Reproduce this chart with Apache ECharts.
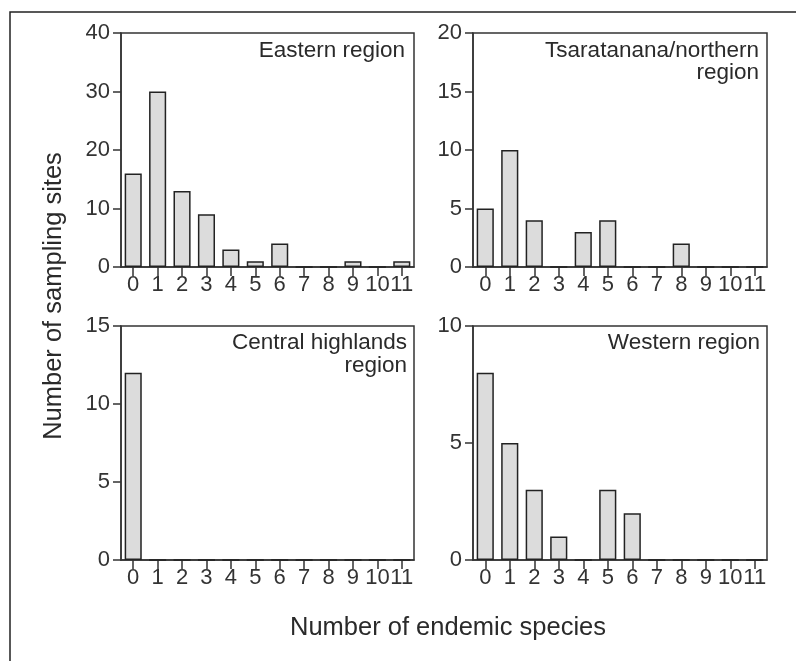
<!DOCTYPE html>
<html>
<head>
<meta charset="utf-8">
<script src="https://cdn.jsdelivr.net/npm/echarts@6/dist/echarts.min.js"></script>
<style>
html,body{margin:0;padding:0;background:#fff;}
#chart{width:796px;height:661px;}
</style>
</head>
<body>
<div id="chart"></div>
<script>
var categories = ['0','1','2','3','4','5','6','7','8','9','10','11'];
var easternValues = [16,30,13,9,3,1,4,0,0,1,0,1];
var northernValues = [5,10,4,0,3,4,0,0,2,0,0,0];
var centralValues = [12,0,0,0,0,0,0,0,0,0,0,0];
var westernValues = [8,5,3,1,0,3,2,0,0,0,0,0];
var panelTitles = ['Eastern region','Tsaratanana/northern\nregion','Central highlands\nregion','Western region'];
var yMax = [40,20,15,10];
var yStep = [10,5,5,5];
var xTitle = 'Number of endemic species';
var yTitle = 'Number of sampling sites';

var FONT = '"Liberation Sans", Arial, Helvetica, sans-serif';
var INK = '#2a2a2a';
var grids = [
  {left:121, top:33, width:293, height:234},
  {left:473, top:33, width:294, height:234},
  {left:121, top:326, width:293, height:234},
  {left:473, top:326, width:294, height:234}
];
var seriesData = [easternValues, northernValues, centralValues, westernValues];
var labelPos = [[405,39.5],[759,39.5],[407,332],[760,332]];

var option = {
  animation:false,
  backgroundColor:'#fff',
  grid: grids.map(function(g){ return Object.assign({show:true, borderColor:'#333', borderWidth:1.5, backgroundColor:'transparent'}, g); }),
  xAxis: grids.map(function(g,i){ return {
    type:'category', gridIndex:i, data:categories, boundaryGap:true,
    axisLine:{show:true, lineStyle:{color:'#333', width:1.5}},
    axisTick:{show:true, alignWithLabel:true, length:9, lineStyle:{color:'#333', width:1.5}},
    axisLabel:{interval:0, hideOverlap:false, margin:7, color:'#333', fontSize:22, fontFamily:FONT},
    splitLine:{show:false}
  };}),
  yAxis: grids.map(function(g,i){ return {
    type:'value', gridIndex:i, min:0, max:yMax[i], interval:yStep[i],
    axisLine:{show:true, lineStyle:{color:'#333', width:1.5}},
    axisTick:{show:true, length:8, lineStyle:{color:'#333', width:1.5}},
    axisLabel:{margin:11, color:'#333', fontSize:22, fontFamily:FONT},
    splitLine:{show:false}
  };}),
  series: seriesData.map(function(d,i){ return {
    type:'bar', xAxisIndex:i, yAxisIndex:i, data:d, barWidth:'70%',
    itemStyle:{color:'#dcdcdc', borderColor:'#222', borderWidth:1.5},
    silent:true
  };}),
  graphic: [
    {type:'polyline', shape:{points:[[10,661],[10,12],[796,12]]}, style:{stroke:'#222', lineWidth:1.5, fill:null}, silent:true},
    {type:'text', x:54, y:296, rotation:Math.PI/2, style:{text:yTitle, font:'25.5px '+FONT, fill:INK, textAlign:'center', textVerticalAlign:'middle'}},
    {type:'text', x:448, y:628, style:{text:xTitle, font:'25.5px '+FONT, fill:INK, textAlign:'center', textVerticalAlign:'middle'}}
  ].concat(panelTitles.map(function(t,i){ return {
    type:'text', x:labelPos[i][0], y:labelPos[i][1],
    style:{text:t, font:'22.5px '+FONT, fill:INK, textAlign:'right', textVerticalAlign:'top', lineHeight:22.5}
  };}))
};
var chart = echarts.init(document.getElementById('chart'), null, {renderer:'canvas'});
chart.setOption(option);
</script>
</body>
</html>
